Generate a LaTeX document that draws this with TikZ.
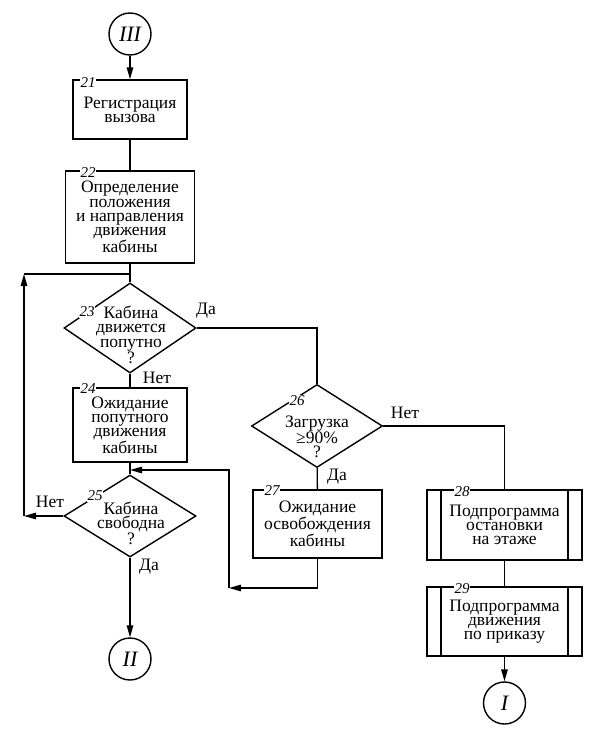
\documentclass[tikz,border=0pt]{standalone}
\usepackage{fontspec}
\setmainfont{Liberation Serif}
\usetikzlibrary{shapes.geometric,arrows.meta}
\begin{document}
\begin{tikzpicture}[x=1pt, y=-1pt, line width=1.4pt,
  every node/.style={font=\fontsize{17.5}{14.2}\selectfont, align=center},
  blk/.style={rectangle, draw, inner sep=0pt},
  sub/.style={blk, path picture={
    \draw ([xshift=14pt]path picture bounding box.north west) -- ([xshift=14pt]path picture bounding box.south west);
    \draw ([xshift=-14pt]path picture bounding box.north east) -- ([xshift=-14pt]path picture bounding box.south east);}},
  dec/.style={diamond, draw, inner sep=0pt},
  con/.style={circle, draw, minimum size=42pt, inner sep=0pt, font=\fontsize{22}{22}\selectfont\itshape},
  num/.style={fill=white, inner sep=0.6pt, font=\fontsize{15}{15}\selectfont\itshape},
  arr/.style={-{Triangle[length=12pt,width=6.5pt]}}]
\useasboundingbox (0,0) rectangle (589,753);
% left column
\node[con] (con3) at (130,34){III};
\node[blk, minimum width=114pt, minimum height=59pt] (blk21) at (130,109.5){Регистрация\\вызова};
\node[blk, minimum width=129pt, minimum height=92pt] (blk22) at (130,217){Определение\\положения\\и направления\\движения\\кабины};
\node[dec, minimum width=132pt, minimum height=90pt] (blk23) at (130,328){};
\node (txt23) at (131,335){Кабина\\движется\\попутно\\?};
\node[blk, minimum width=114pt, minimum height=74pt] (blk24) at (130,425){Ожидание\\попутного\\движения\\кабины};
\node[dec, minimum width=132pt, minimum height=82pt] (blk25) at (130,516){};
\node (txt25) at (131,523){Кабина\\свободна\\?};
\node[con] (con2) at (130,659){II};
% middle column
\node[dec, minimum width=131pt, minimum height=83pt] (blk26) at (317,426){};
\node (txt26) at (317,437){Загрузка\\≥90\%\\?};
\node[blk, minimum width=129pt, minimum height=68pt] (blk27) at (317.5,524){Ожидание\\освобождения\\кабины};
% right column
\node[sub, minimum width=155pt, minimum height=70pt] (blk28) at (504.5,525){Подпрограмма\\остановки\\на этаже};
\node[sub, minimum width=155pt, minimum height=69pt] (blk29) at (504.5,621.5){Подпрограмма\\движения\\по приказу};
\node[con] (con1) at (504.5,703){I};
% block numbers
\node[num] (num21) at (88,83){21};
\node[num] (num22) at (88,173){22};
\node[num] (num23) at (87,312){23};
\node[num] (num24) at (88,389){24};
\node[num] (num25) at (95,496){25};
\node[num] (num26) at (297,401){26};
\node[num] (num27) at (272,491){27};
\node[num] (num28) at (462,492){28};
\node[num] (num29) at (462,589){29};
% answers
\node (yes23) at (206,311){Да};
\node (no23) at (157,378){Нет};
\node (no25) at (50,502){Нет};
\node (yes25) at (149,567){Да};
\node (no26) at (405,413){Нет};
\node (yes26) at (337,477){Да};
% bends
\coordinate (crn1) at (24,516);
\coordinate (crn2) at (24,274);
\coordinate (jn1) at (130,274);
\coordinate (crn4) at (229,588);
\coordinate (jn2) at (130,470);
\draw[arr](con3) -- (blk21);
\draw[](blk21) -- (blk22);
\draw[](blk22) -- (blk23);
\draw[](blk23) -- (blk24);
\draw[](blk24) -- (blk25);
\draw[arr](blk25) -- (con2);
\draw[arr](blk25.west) -- (crn1);
\draw[arr](crn1) -- (crn2);
\draw[](crn2) -- (jn1);
\draw[](blk23.east) -| (blk26);
\draw[](blk26) -- (blk27);
\draw[arr](blk27.south) |- (crn4);
\draw[arr](crn4) |- (jn2);
\draw[](blk26.east) -| (blk28);
\draw[](blk28) -- (blk29);
\draw[arr](blk29) -- (con1);
\end{tikzpicture}
\end{document}
